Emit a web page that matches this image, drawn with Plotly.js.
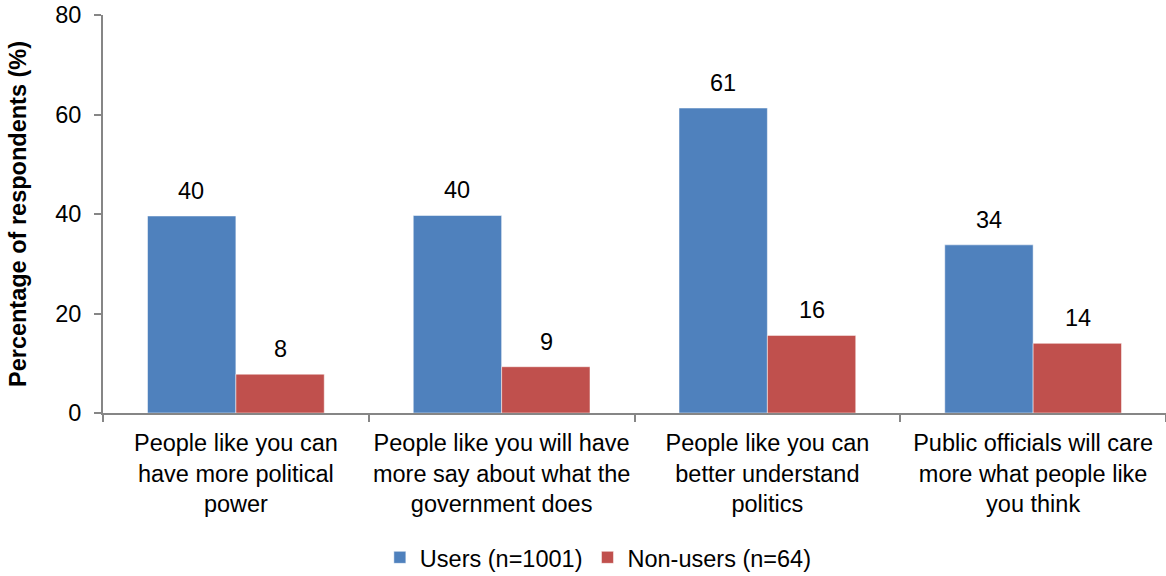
<!DOCTYPE html>
<html><head><meta charset="utf-8">
<script src="https://cdn.plot.ly/plotly-3.0.1.min.js"></script>
<style>body{margin:0;background:#fff}#chart{width:1166px;height:576px}</style>
</head><body><div id="chart"></div>
<script>
const categories = [
  "People like you can<br>have more political<br>power",
  "People like you will have<br>more say about what the<br>government does",
  "People like you can<br>better understand<br>politics",
  "Public officials will care<br>more what people like<br>you think"
];
const usersValues = [39.6, 39.7, 61.3, 33.8];
const nonUsersValues = [7.8, 9.3, 15.6, 14.0];
const seriesNames = ["Users (n=1001)", "Non-users (n=64)"];
const yTicks = [0, 20, 40, 60, 80];

const font = "Liberation Sans, Arial, sans-serif";
const FS = 23.5;
const traces = [
  {type: "bar", name: seriesNames[0], x: categories, y: usersValues,
   marker: {color: "#4F81BD", line: {color: "#ffffff", width: 0.5}}},
  {type: "bar", name: seriesNames[1], x: categories, y: nonUsersValues,
   marker: {color: "#C0504D", line: {color: "#ffffff", width: 0.5}}}
];
const annotations = [];
[usersValues, nonUsersValues].forEach((vals, si) => {
  vals.forEach((v, i) => annotations.push({
    x: categories[i], y: v, xref: "x", yref: "y", text: String(Math.round(v)),
    showarrow: false, yanchor: "bottom", xanchor: "center",
    xshift: si === 0 ? -44.5 : 44.5, yshift: 10,
    font: {family: font, size: FS, color: "#000"}
  }));
});
const layout = {
  width: 1166, height: 576,
  margin: {l: 103, r: 0, t: 15, b: 163},
  paper_bgcolor: "#fff", plot_bgcolor: "#fff",
  font: {family: font, size: FS, color: "#000"},
  barmode: "group", bargap: 0.335, bargroupgap: 0,
  showlegend: true,
  annotations: annotations,
  legend: {orientation: "h", x: 0.466, xanchor: "center", yref: "container", y: 0.032, yanchor: "middle",
           font: {family: font, size: FS}, itemwidth: 30, tracegroupgap: 0},
  xaxis: {type: "category", showline: true, linecolor: "#868686", linewidth: 2,
          ticks: "outside", tickson: "boundaries", ticklen: 7, tickcolor: "#868686", tickwidth: 2,
          ticklabelstandoff: 8, tickangle: 0,
          tickfont: {family: font, size: FS}, showgrid: false, zeroline: false, automargin: false},
  yaxis: {range: [0, 80], tickvals: yTicks, showline: true, linecolor: "#868686", linewidth: 2,
          ticks: "outside", ticklen: 7, tickcolor: "#868686", tickwidth: 2,
          ticklabelstandoff: 8,
          tickfont: {family: font, size: FS}, showgrid: false, zeroline: false, automargin: false,
          title: {text: "<b>Percentage of respondents (%)</b>", font: {family: font, size: 23.5}, standoff: 22}}
};
Plotly.newPlot("chart", traces, layout, {displayModeBar: false});
</script></body></html>
